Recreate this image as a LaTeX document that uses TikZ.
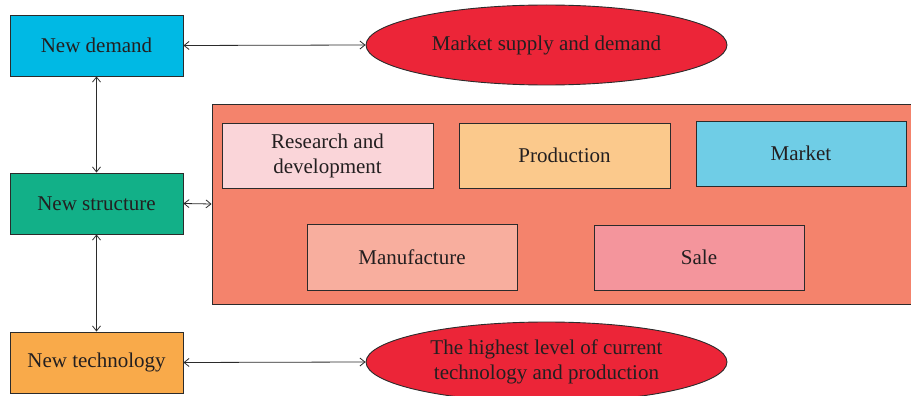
\documentclass[tikz,border=0pt]{standalone}
\usepackage{fontspec}
\setmainfont{Liberation Serif}
\usetikzlibrary{shapes.geometric,arrows.meta}
\definecolor{txt}{HTML}{231F20}
\definecolor{edge}{HTML}{2B2B2B}
\definecolor{cdemand}{HTML}{00B9E4}
\definecolor{cstruct}{HTML}{12B088}
\definecolor{ctech}{HTML}{F9AA4A}
\definecolor{cred}{HTML}{EC2538}
\definecolor{cbig}{HTML}{F4836C}
\definecolor{cresearch}{HTML}{FAD5D9}
\definecolor{cprod}{HTML}{FBC98C}
\definecolor{cmarket}{HTML}{6FCDE6}
\definecolor{cmanu}{HTML}{F8AE9E}
\definecolor{csale}{HTML}{F4959C}
\tikzset{
  box/.style={draw=edge, line width=0.9pt, rectangle, inner sep=0pt,
    text=txt, font=\fontsize{21}{25}\selectfont, align=center},
  oval/.style={draw=edge, line width=0.9pt, ellipse, inner sep=0pt,
    fill=cred, text=txt, font=\fontsize{21}{25}\selectfont, align=center},
  link/.style={draw=edge, line width=0.8pt,
    {Straight Barb[length=5pt,width=8pt]}-{Straight Barb[length=5pt,width=8pt]}}
}
\begin{document}
\begin{tikzpicture}[x=1pt,y=-1pt]
\useasboundingbox (0,0) rectangle (911,396);
% left column
\node[box, fill=cdemand, minimum width=173pt, minimum height=61pt] (nd) at (96.5,45.5) {New demand};
\node[box, fill=cstruct, minimum width=173pt, minimum height=61pt] (ns) at (96.5,203.5) {New structure};
\node[box, fill=ctech, minimum width=173pt, minimum height=61pt] (nt) at (96.5,362.5) {New technology};
% ovals
\node[oval, minimum width=361pt, minimum height=80pt] (ms) at (546.5,45) {Market supply and demand};
\node[oval, minimum width=361pt, minimum height=80pt] (hl) at (546.5,362) {The highest level of current\\technology and production};
% chain container
\node[box, fill=cbig, minimum width=702pt, minimum height=200pt] (chain) at (563,204) {};
% chain stages
\node[box, fill=cresearch, minimum width=211pt, minimum height=65pt] (rd) at (327.5,155.5) {Research and\\development};
\node[box, fill=cprod, minimum width=211pt, minimum height=65pt] (pr) at (564.5,155.5) {Production};
\node[box, fill=cmarket, minimum width=210pt, minimum height=65pt] (mk) at (801,153.5) {Market};
\node[box, fill=cmanu, minimum width=210pt, minimum height=66pt] (mf) at (412,257) {Manufacture};
\node[box, fill=csale, minimum width=210pt, minimum height=65pt] (sl) at (699,257.5) {Sale};
% connectors
\draw[link] (nd.east) -- (ms.west);
\draw[link] (nt.east) -- (hl.west);
\draw[link] (ns.east) -- (chain.west);
\draw[link] (nd.south) -- (ns.north);
\draw[link] (ns.south) -- (nt.north);
\end{tikzpicture}
\end{document}
